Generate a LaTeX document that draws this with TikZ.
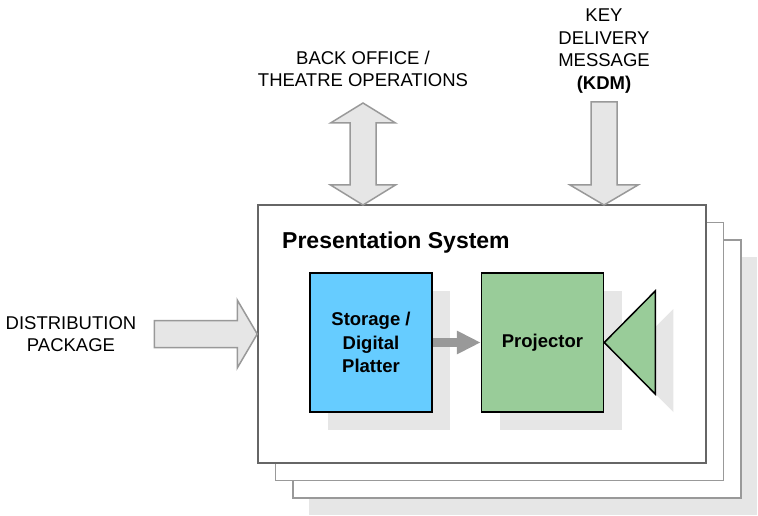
\documentclass[tikz,border=0pt]{standalone}
\usepackage{fontspec}
\setmainfont{Liberation Sans}
\usetikzlibrary{arrows.meta, calc, shadows}

\definecolor{storeblue}{HTML}{66CCFF}
\definecolor{projgreen}{HTML}{99CC99}
\definecolor{shadowgray}{HTML}{E6E6E6}
\definecolor{edgegray}{HTML}{999999}
\definecolor{framegray}{HTML}{666666}

\begin{document}
\begin{tikzpicture}[
    x=1pt, y=-1pt,
    label/.style     ={align=center, inner sep=0pt, font=\fontsize{18.5}{22.5}\selectfont},
    sysframe/.style  ={draw=framegray, line width=1.5pt, fill=white, inner sep=0pt,
                       minimum width=448pt, minimum height=258pt},
    backframe/.style ={sysframe, draw=edgegray},
    flat/.style      ={drop shadow={shadow xshift=18pt, shadow yshift=-18pt,
                       fill=shadowgray, opacity=1}},
    unit/.style      ={draw=black, line width=1.5pt, align=center, inner sep=0pt,
                       minimum width=122pt, minimum height=139pt, flat,
                       font=\bfseries\fontsize{18.5}{23.5}\selectfont},
    block/.style     ={draw=edgegray, line width=1.5pt, fill=shadowgray, line join=miter}
]
\useasboundingbox (0,0) rectangle (758,516);

% Stacked presentation systems
\node[backframe, drop shadow={shadow xshift=16pt, shadow yshift=-17pt,
      fill=shadowgray, opacity=1}] (sys3) at (517,369) {};
\node[backframe] (sys2) at (499.5,351.5) {};
\node[sysframe]  (sys)  at (482,334) {};

\node[anchor=base west, inner sep=0pt, font=\bfseries\fontsize{23}{27}\selectfont]
    (title) at (282,248) {Presentation System};

% Storage -> Projector
\node[unit, fill=storeblue] (store) at (371,342.5) {Storage /\\Digital\\Platter};
\node[unit, fill=projgreen] (proj)  at (542.5,342.5) {Projector};
\draw[line width=1.5pt, fill=projgreen, line join=miter, flat]
    (proj.east) -- ++(51,-51.5) -- ++(0,103) -- cycle;
\draw[edgegray, line width=9pt, -{Triangle[length=24pt, width=22pt]}]
    (store.east) -- (proj.west);

% --- Inputs ---
\node[label] (dist) at (71,334) {DISTRIBUTION\\PACKAGE};
\coordinate (distTip) at (sys.west);
\draw[block] (distTip) -- ++(-20,-34) -- ++(0,20.5) -- ++(-83,0) -- ++(0,27)
    -- ++(83,0) -- ++(0,20.5) -- cycle;

\node[label] (office) at (363,69) {BACK OFFICE /\\THEATRE OPERATIONS};
\coordinate (officeTip) at (363,205);
\draw[block] (officeTip) -- ++(-32.5,-20) -- ++(19.5,0) -- ++(0,-62) -- ++(-19.5,0)
    -- ++(32.5,-20) -- ++(32.5,20) -- ++(-19.5,0) -- ++(0,62) -- ++(19.5,0) -- cycle;

\node[label] (kdm) at (604,51) {KEY\\DELIVERY\\MESSAGE\\\textbf{(KDM)}};
\coordinate (kdmTip) at (604,205);
\draw[block] (kdmTip) -- ++(-34,-20) -- ++(21,0) -- ++(0,-83) -- ++(26,0)
    -- ++(0,83) -- ++(21,0) -- cycle;

\end{tikzpicture}
\end{document}
